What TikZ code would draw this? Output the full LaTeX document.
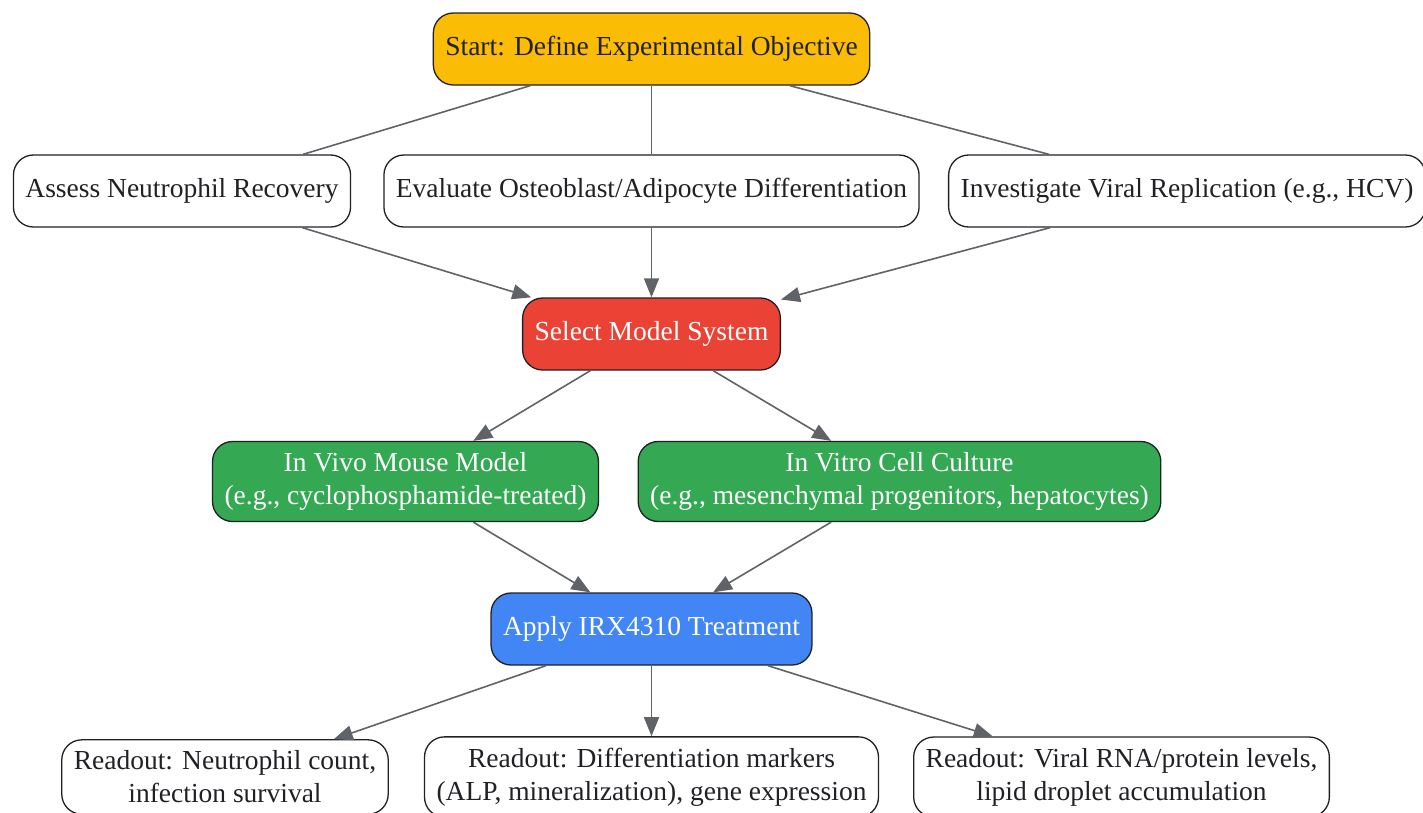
\documentclass[tikz,border=0pt]{standalone}
\usepackage{fontspec}
\setmainfont{Liberation Serif}
\usetikzlibrary{arrows.meta,calc,positioning}
\definecolor{startyellow}{HTML}{FBBC05}
\definecolor{selectred}{HTML}{EA4335}
\definecolor{modelgreen}{HTML}{34A853}
\definecolor{applyblue}{HTML}{4285F4}
\definecolor{edgegray}{HTML}{5F6368}
\definecolor{boxline}{HTML}{202124}
\tikzset{
	box/.style={draw=boxline, line width=1.3pt, rounded corners=20pt, align=center,
		inner xsep=12pt, inner ysep=11pt, minimum height=72pt, text=boxline,
		font=\fontsize{27.5pt}{33pt}\selectfont},
	filled/.style={box, fill=#1, text=white},
	link/.style={draw=edgegray, line width=1.6pt},
	arr/.style={link, -{Triangle[length=19pt,width=15pt]}}
}
\begin{document}
\begin{tikzpicture}[x=1pt,y=-1pt]
	\useasboundingbox (0,0) rectangle (1423,812);
	% top
	\node[box, fill=startyellow] (start) at (651.5,49) {Start: Define Experimental Objective};
	% objectives
	\node[box] (neutro) at (182,191) {Assess Neutrophil Recovery};
	\node[box] (osteo) at (651.5,191) {Evaluate Osteoblast/Adipocyte Differentiation};
	\node[box] (viral) at (1187,191) {Investigate Viral Replication (e.g., HCV)};
	% model
	\node[filled=selectred] (select) at (651.5,334) {Select Model System};
	\node[filled=modelgreen] (invivo) at (405.5,481.5) {In Vivo Mouse Model\\(e.g., cyclophosphamide-treated)};
	\node[filled=modelgreen] (invitro) at (899.5,481.5) {In Vitro Cell Culture\\(e.g., mesenchymal progenitors, hepatocytes)};
	% treatment
	\node[filled=applyblue] (apply) at (651.5,629) {Apply IRX4310 Treatment};
	% readouts
	\node[box] (readA) at (225,777) {Readout: Neutrophil count,\\infection survival};
	\node[box] (readB) at (651.5,777) {Readout: Differentiation markers\\(ALP, mineralization), gene expression};
	\node[box] (readC) at (1121.5,777) {Readout: Viral RNA/protein levels,\\lipid droplet accumulation};

	\draw[link] (start)--(neutro);
	\draw[link] (start)--(osteo);
	\draw[link] (start)--(viral);
	\draw[arr] (neutro)--(select);
	\draw[arr] (osteo)--(select);
	\draw[arr] (viral)--(select);
	\draw[arr] (select)--(invivo);
	\draw[arr] (select)--(invitro);
	\draw[arr] (invivo)--(apply);
	\draw[arr] (invitro)--(apply);
	\draw[arr] (apply)--(readA);
	\draw[arr] (apply)--(readB);
	\draw[arr] (apply)--(readC);
\end{tikzpicture}
\end{document}
